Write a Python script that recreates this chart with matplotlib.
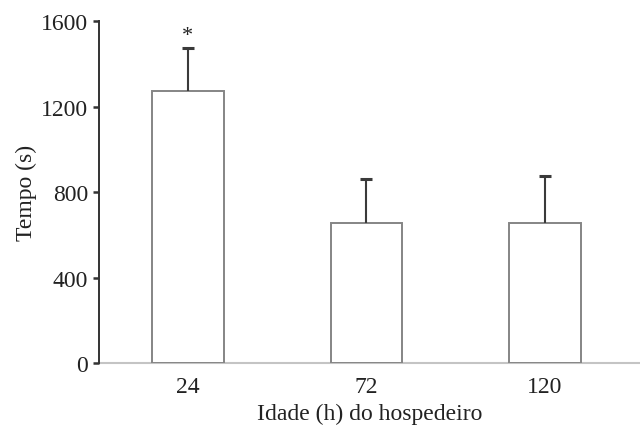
import matplotlib.pyplot as plt
import numpy as np

# dados
idades = ['24', '72', '120']
tempo_medio = [1275, 655, 655]
erro = [198, 208, 220]
signif = ['*', '', '']

plt.rcParams['font.family'] = 'serif'
plt.rcParams['font.serif'] = ['Liberation Serif', 'DejaVu Serif']

fig = plt.figure(figsize=(6.4, 4.27), dpi=100)
ax = fig.add_axes([0.155, 0.147, 0.845, 0.801])

x = np.arange(len(idades))
ax.bar(x, tempo_medio, width=0.4, color='white', edgecolor='#858585',
       linewidth=1.4, zorder=2)
_, caps, _ = ax.errorbar(x, tempo_medio, yerr=[np.zeros(len(erro)), erro],
                         fmt='none', ecolor='#3a3a3a', elinewidth=1.5,
                         capsize=4, capthick=2.2, zorder=3)
caps[0].set_visible(False)  # so a barra de cima

for xi, m, e, s in zip(x, tempo_medio, erro, signif):
    if s:
        ax.text(xi, m + e + 15, s, ha='center', va='bottom', fontsize=16,
                color='#222222')

ax.set_xlim(-0.497, 2.532)
ax.set_ylim(0, 1600)
ax.set_yticks([0, 400, 800, 1200, 1600])
ax.set_xticks(x)
ax.set_xticklabels(idades)

ax.spines['top'].set_visible(False)
ax.spines['right'].set_visible(False)
ax.spines['left'].set_color('#333333')
ax.spines['left'].set_linewidth(1.4)
ax.spines['bottom'].set_color('#c4c4c4')
ax.spines['bottom'].set_linewidth(1.5)
ax.spines['bottom'].set_zorder(1)

ax.tick_params(axis='y', direction='out', length=4, width=1.8, color='#333333',
               labelsize=17, pad=4, labelcolor='#222222')
ax.tick_params(axis='x', length=0, labelsize=17, pad=9, labelcolor='#222222')

ax.set_xlabel('Idade (h) do hospedeiro', fontsize=17, color='#222222', labelpad=4.5)
ax.set_ylabel('Tempo (s)', fontsize=17, color='#222222', labelpad=3)

plt.savefig('out.png', dpi=100)
